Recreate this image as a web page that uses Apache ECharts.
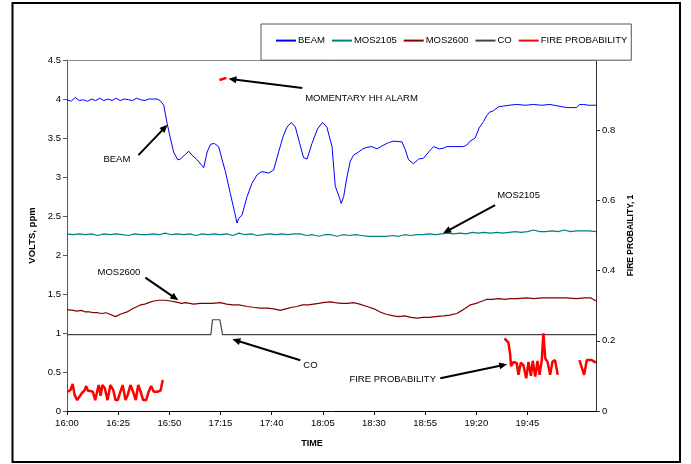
<!DOCTYPE html>
<html><head><meta charset="utf-8">
<script src="https://cdn.jsdelivr.net/npm/echarts@6/dist/echarts.min.js"></script>
<style>html,body{margin:0;padding:0;background:#fff}#c{width:691px;height:464px}</style>
</head><body><div id="c"></div>
<script>
// time in minutes after 16:00
const xTickLabels = ['16:00','16:25','16:50','17:15','17:40','18:05','18:30','18:55','19:20','19:45'];

const beam = [[0,3.99],[2,3.97],[4,4.02],[6,3.98],[8,3.99],[10,3.97],[12,4.00],[14,3.98],[16,4.01],[18,3.98],[20,4.00],[22,3.98],[24,4.01],[26,3.98],[28,4.00],[30,3.99],[32,3.98],[34,4.01],[36,3.99],[38,3.98],[40,4.00],[42,4.00],[44,4.00],[45.5,3.98],[47.3,3.92],[48.9,3.69],[50.5,3.50],[52.1,3.32],[54.1,3.22],[55.4,3.23],[57.4,3.28],[59.5,3.33],[61.1,3.28],[63.6,3.22],[66.8,3.12],[68.5,3.32],[70.1,3.42],[72,3.43],[74.1,3.39],[75.8,3.22],[77.4,3.07],[79.8,2.79],[81.8,2.56],[83.1,2.41],[83.9,2.47],[85.5,2.51],[88,2.75],[90.4,2.92],[92.9,3.03],[95.3,3.07],[98.5,3.05],[99.4,3.03],[101,3.09],[103.4,3.32],[105.6,3.52],[107.5,3.64],[109.6,3.70],[111.6,3.64],[113.7,3.43],[115.6,3.25],[117.3,3.23],[119.7,3.43],[122.5,3.62],[124.9,3.70],[127,3.64],[129.5,3.39],[131.1,2.88],[132.7,2.77],[134,2.66],[135.2,2.75],[136.8,3.00],[138.4,3.20],[140,3.28],[142.5,3.32],[144.5,3.36],[146.6,3.38],[149,3.39],[151.5,3.36],[154.7,3.41],[157.1,3.44],[159.6,3.46],[163.7,3.45],[165.3,3.35],[166.9,3.22],[169.3,3.17],[171.8,3.23],[174.2,3.24],[176.7,3.32],[179.1,3.39],[182,3.36],[184,3.37],[185.6,3.39],[188.9,3.39],[193.8,3.39],[195.4,3.41],[197,3.46],[199.5,3.50],[201.4,3.63],[203.5,3.71],[205.2,3.79],[206.4,3.83],[208.4,3.85],[210.8,3.90],[213.3,3.91],[216,3.92],[219.8,3.93],[224,3.92],[227.9,3.93],[232,3.92],[236,3.93],[240,3.91],[244.2,3.89],[249.1,3.89],[250.5,3.93],[252.3,3.93],[255,3.92],[258.5,3.92]];

const mos2105 = [[0,2.27],[3,2.26],[6,2.27],[9,2.26],[12,2.27],[15,2.25],[18,2.27],[21,2.26],[24,2.27],[27,2.26],[30,2.25],[33,2.27],[36,2.26],[39,2.26],[42,2.27],[45,2.26],[48,2.28],[51,2.26],[54,2.27],[57,2.26],[60,2.27],[63,2.25],[66,2.27],[69,2.26],[72,2.27],[75,2.26],[78,2.27],[81,2.25],[84,2.28],[87,2.26],[90,2.27],[93,2.25],[96,2.26],[99,2.27],[102,2.26],[105,2.27],[108,2.26],[111,2.27],[114,2.27],[117,2.25],[120,2.26],[123,2.24],[126,2.26],[129,2.26],[132,2.24],[135,2.26],[138,2.25],[141,2.26],[144,2.25],[147,2.24],[150,2.24],[153,2.24],[156,2.24],[159,2.25],[162,2.24],[165,2.26],[168,2.25],[171,2.26],[174,2.26],[177,2.27],[180,2.26],[183,2.27],[186,2.28],[189,2.27],[192,2.28],[195,2.27],[198,2.29],[201,2.28],[204,2.29],[207,2.28],[210,2.29],[213,2.28],[216,2.29],[219,2.30],[222,2.29],[225,2.30],[228,2.32],[231,2.30],[234,2.30],[237,2.31],[240,2.30],[243,2.32],[246,2.30],[249,2.31],[252,2.31],[255,2.31],[258.5,2.30]];

const mos2600 = [[0,1.30],[3,1.29],[5,1.28],[7,1.29],[9,1.27],[11,1.27],[13,1.26],[15,1.26],[17,1.25],[19,1.26],[21,1.24],[23.7,1.21],[26,1.24],[29.4,1.27],[32,1.31],[35.9,1.36],[38,1.37],[40,1.39],[42.4,1.41],[45,1.42],[48,1.42],[50.5,1.41],[53,1.40],[56,1.38],[58,1.39],[61.9,1.37],[65,1.38],[68,1.38],[71,1.38],[75,1.39],[78,1.37],[81,1.36],[84,1.36],[88,1.34],[91,1.33],[94.5,1.32],[98,1.32],[101,1.31],[104.2,1.29],[107,1.31],[110,1.33],[112.4,1.34],[115,1.36],[118,1.36],[120.5,1.37],[123,1.38],[125,1.39],[128.7,1.40],[131,1.39],[134,1.38],[137,1.38],[140,1.39],[143,1.37],[146.6,1.34],[150,1.31],[153,1.27],[156,1.24],[159.6,1.22],[162,1.21],[165,1.22],[168,1.20],[171,1.19],[174,1.20],[177,1.20],[180,1.21],[184,1.22],[187,1.23],[190.5,1.25],[193,1.29],[197,1.36],[200,1.38],[202,1.40],[205,1.43],[208,1.43],[211,1.44],[214,1.43],[216.5,1.44],[220,1.44],[224.7,1.45],[228,1.44],[232,1.45],[236,1.45],[240,1.45],[244,1.45],[249,1.44],[253,1.45],[256,1.45],[258.5,1.41]];

const co = [[0,0.98],[70.3,0.98],[71.1,1.17],[74.7,1.17],[76,0.98],[258.5,0.98]];

const fireProb = [[0.4,0.055],[1.7,0.060],[2.8,0.077],[3.7,0.046],[5,0.031],[6.3,0.043],[7.4,0.052],[8.5,0.058],[9.4,0.071],[10.2,0.058],[11.5,0.057],[12.6,0.055],[13.8,0.031],[14.7,0.055],[15.5,0.074],[16.4,0.043],[17.3,0.074],[18.5,0.065],[19.8,0.031],[21.2,0.074],[22.6,0.060],[23.7,0.031],[24.8,0.031],[26.1,0.055],[27.2,0.074],[28.6,0.031],[29.7,0.046],[31,0.074],[32.3,0.055],[33.6,0.031],[34.8,0.074],[36,0.055],[37.2,0.031],[38.7,0.031],[39.9,0.055],[41.1,0.071],[42.4,0.055],[44,0.055],[45.7,0.058],[46.8,0.088],
  [60,'-'],
  [74.5,0.943],[77.9,0.949],
  [120,'-'],
  [213.8,0.207],[215.7,0.195],[216.5,0.164],[217,0.128],[218.2,0.140],[219,0.145],[219.8,0.136],[220.6,0.103],[221.8,0.138],[223,0.131],[224.4,0.093],[225.5,0.140],[226.7,0.100],[227.6,0.143],[228.8,0.098],[229.9,0.143],[230.9,0.103],[232,0.145],[232.8,0.221],[233.7,0.150],[234.8,0.140],[236.1,0.103],[237.2,0.140],[238.5,0.145],[239.8,0.103],
  [245,'-'],
  [250.4,0.145],[252.7,0.103],[254,0.145],[256.4,0.145],[258.5,0.138]];

// annotations: text anchor and arrow from -> to, in (minutes, volts) coordinates
const notes = [
  {text:'MOMENTARY HH ALARM', at:[116.4,4.01], from:[115,4.14], to:[78.9,4.26]},
  {text:'BEAM', at:[17.8,3.22], from:[34.9,3.28], to:[49.1,3.67]},
  {text:'MOS2105', at:[210.2,2.77], from:[209.2,2.64], to:[183.8,2.28]},
  {text:'MOS2600', at:[14.9,1.78], from:[38.3,1.71], to:[54.4,1.42]},
  {text:'CO', at:[115.5,0.59], from:[114,0.65], to:[80.8,0.92]},
  {text:'FIRE PROBABILITY', at:[138,0.40], from:[182.4,0.42], to:[215.1,0.60]}
];

const xTickValues = xTickLabels.map((_, i) => i * 25);
const FONT = '"Liberation Sans", Arial, sans-serif';
const chart = echarts.init(document.getElementById('c'), null, {renderer:'canvas'});
const tickStyle = {color:'#000', fontSize:9.5, fontFamily:FONT};
chart.setOption({
  animation:false,
  backgroundColor:'#fff',
  textStyle:{fontFamily:FONT},
  legend:{
    left:261, top:24, padding:[11,4,14,14], itemGap:6, itemWidth:20, itemHeight:14,
    borderColor:'#555', borderWidth:1, backgroundColor:'#fff', borderRadius:0,
    itemStyle:{opacity:0, color:'rgba(0,0,0,0)', borderWidth:0},
    textStyle:{fontSize:9.5, color:'#000', fontFamily:FONT, padding:[0,0,0,-3]},
    data:['BEAM','MOS2105','MOS2600','CO','FIRE PROBABILITY']
  },
  grid:{left:67, right:95, top:60, bottom:53},
  xAxis:[{
    type:'value', min:0, max:258.5, interval:25,
    name:'TIME', nameLocation:'middle', nameGap:28,
    nameTextStyle:{fontWeight:'bold', fontSize:9, color:'#000', padding:[0,39,0,0]},
    axisLine:{onZero:false, lineStyle:{color:'#000', width:1}},
    axisTick:{show:true, length:4, lineStyle:{color:'#000'}, customValues:xTickValues},
    axisLabel:{...tickStyle, margin:7, customValues:xTickValues, hideOverlap:false,
      formatter:v=>xTickLabels[Math.round(v/25)] || ''},
    splitLine:{show:false}
  },{
    type:'value', position:'top', min:0, max:258.5,
    axisLine:{show:true, onZero:false, lineStyle:{color:'#888', width:1}},
    axisTick:{show:false}, axisLabel:{show:false}, splitLine:{show:false}
  }],
  yAxis:[{
    type:'value', min:0, max:4.5, interval:0.5, position:'left',
    name:'VOLTS, ppm', nameLocation:'middle', nameGap:27, nameRotate:90,
    nameTextStyle:{fontWeight:'bold', fontSize:9.5, color:'#000'},
    axisLine:{show:true, onZero:false, lineStyle:{color:'#555', width:1}},
    axisTick:{show:true, length:4, lineStyle:{color:'#555'}},
    axisLabel:{...tickStyle, margin:6},
    splitLine:{show:false}
  },{
    type:'value', min:0, max:1, interval:0.2, position:'right',
    name:'FIRE PROBAILITY, 1', nameLocation:'middle', nameGap:25, nameRotate:90,
    nameTextStyle:{fontWeight:'bold', fontSize:8.5, color:'#000'},
    axisLine:{show:true, onZero:false, lineStyle:{color:'#333', width:1}},
    axisTick:{show:true, length:4, lineStyle:{color:'#333'}},
    axisLabel:{...tickStyle, margin:6, showMaxLabel:false},
    splitLine:{show:false}
  }],
  series:[
    {name:'BEAM', type:'line', data:beam, symbol:'none', lineStyle:{color:'#0000ff', width:1}, itemStyle:{color:'#0000ff'}},
    {name:'MOS2105', type:'line', data:mos2105, symbol:'none', lineStyle:{color:'#008080', width:1.2}, itemStyle:{color:'#008080'}},
    {name:'MOS2600', type:'line', data:mos2600, symbol:'none', lineStyle:{color:'#800000', width:1.2}, itemStyle:{color:'#800000'}},
    {name:'CO', type:'line', data:co, symbol:'none', lineStyle:{color:'#444', width:1.2}, itemStyle:{color:'#444'}},
    {name:'FIRE PROBABILITY', type:'line', yAxisIndex:1, data:fireProb, symbol:'none', connectNulls:false,
      lineStyle:{color:'#ff0000', width:2.5}, itemStyle:{color:'#ff0000'}}
  ]
});

// annotations and outer frame
const g = [];
g.push({type:'rect', shape:{x:12.5, y:3, width:667.5, height:459}, style:{fill:'none', stroke:'#000', lineWidth:2}, z:100});
notes.forEach(n=>{
  const p = chart.convertToPixel({xAxisIndex:0, yAxisIndex:0}, n.at);
  const a = chart.convertToPixel({xAxisIndex:0, yAxisIndex:0}, n.from);
  const b = chart.convertToPixel({xAxisIndex:0, yAxisIndex:0}, n.to);
  const dx=b[0]-a[0], dy=b[1]-a[1], L=Math.hypot(dx,dy), ux=dx/L, uy=dy/L;
  const hl=8, hw=3.5;
  const base=[b[0]-ux*hl, b[1]-uy*hl];
  g.push({type:'text', style:{text:n.text, x:p[0], y:p[1], fill:'#000', font:'9.5px '+FONT, align:'left', verticalAlign:'middle'}, z:100});
  g.push({type:'line', shape:{x1:a[0], y1:a[1], x2:base[0]+ux*2, y2:base[1]+uy*2}, style:{stroke:'#000', lineWidth:2}, z:100});
  g.push({type:'polygon', shape:{points:[[b[0],b[1]],[base[0]-uy*hw, base[1]+ux*hw],[base[0]+uy*hw, base[1]-ux*hw]]}, style:{fill:'#000'}, z:100});
});
chart.setOption({graphic:g});
</script>
</body></html>
